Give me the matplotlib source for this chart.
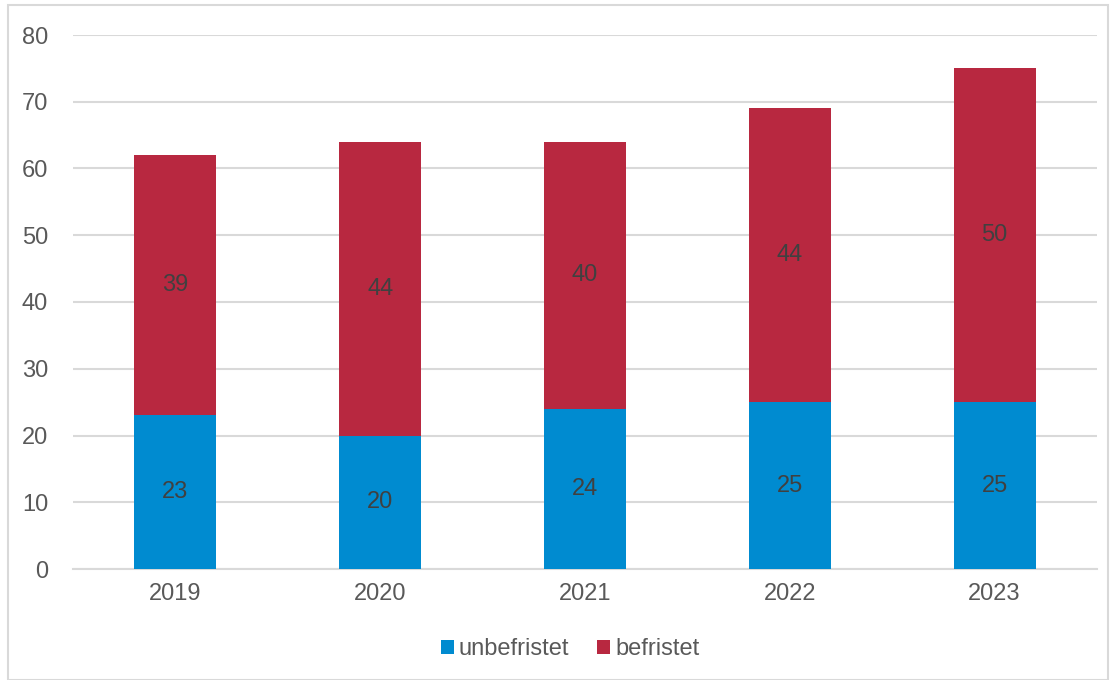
import matplotlib.pyplot as plt
from matplotlib.patches import Rectangle

years = ["2019", "2020", "2021", "2022", "2023"]
unbefristet = [23, 20, 24, 25, 25]
befristet = [39, 44, 40, 44, 50]

plt.rcParams['font.family'] = ['Liberation Sans', 'DejaVu Sans']

blue = '#008BD0'
red = '#B82840'

fig = plt.figure(figsize=(11.14, 6.8), dpi=100)
ax = fig.add_axes([73 / 1114, 1 - 569 / 680, 1024 / 1114, 534 / 680])

# border around the whole chart
fig.patches.append(Rectangle((8 / 1114, 0), 1100 / 1114, 1 - 5 / 680,
                             transform=fig.transFigure, fill=False,
                             edgecolor='#D9D9D9', linewidth=1.5))

x = range(len(years))
b1 = ax.bar(x, unbefristet, width=0.4, color=blue, label='unbefristet', zorder=3)
b2 = ax.bar(x, befristet, width=0.4, bottom=unbefristet, color=red,
            label='befristet', zorder=3)
ax.bar_label(b1, label_type='center', fontsize=17, color='#404040')
ax.bar_label(b2, label_type='center', fontsize=17, color='#404040')

ax.set_xlim(-0.5, 4.5)
ax.set_ylim(0, 80)
ax.set_yticks(range(0, 81, 10))
ax.set_xticks(list(x))
ax.set_xticklabels(years)
ax.grid(axis='y', color='#D9D9D9', linewidth=1.5, zorder=0)
for s in ['top', 'right', 'left']:
    ax.spines[s].set_visible(False)
ax.spines['bottom'].set_color('#D9D9D9')
ax.spines['bottom'].set_linewidth(1.5)
ax.tick_params(axis='both', length=0, labelsize=17, labelcolor='#595959')
ax.tick_params(axis='y', pad=18)
ax.tick_params(axis='x', pad=10)

fig.legend(loc='center', bbox_to_anchor=(570 / 1114, 1 - 649 / 680), ncol=2,
           frameon=False, fontsize=17, labelcolor='#595959',
           handlelength=0.55, handleheight=0.55, handletextpad=0.2,
           columnspacing=1.2)

fig.savefig('out.png', dpi=100)
